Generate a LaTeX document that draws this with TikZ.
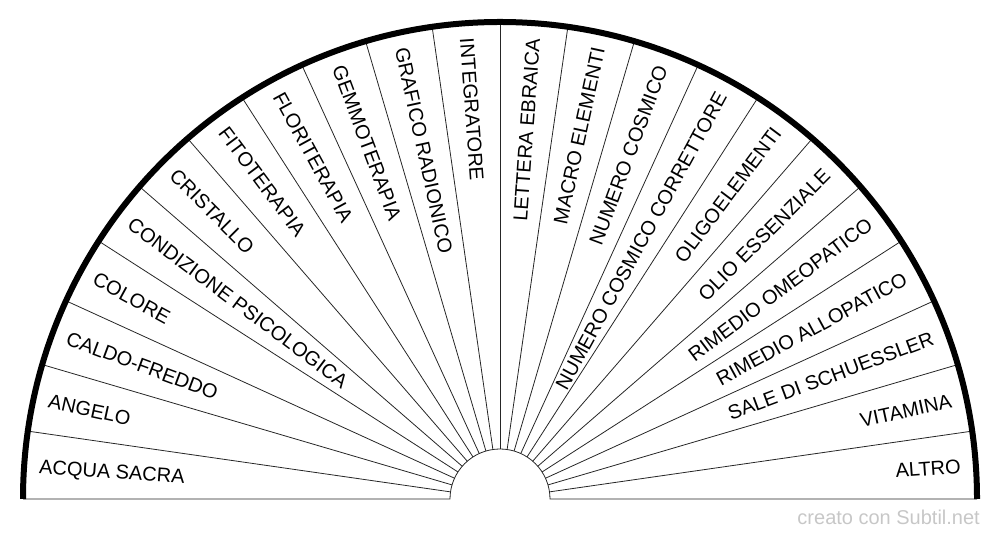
\documentclass[tikz,border=0pt]{standalone}
\usepackage{fontspec}
\setmainfont{Liberation Sans}
\begin{document}
\begin{tikzpicture}[x=1pt,y=1pt,
  spoke/.style={line width=0.8pt, black!85},
  rim/.style={line width=6pt, black},
  lab/.style={font=\fontsize{20}{24}\selectfont, inner sep=0pt, text height=14.3pt, text depth=0pt},
  wmark/.style={font=\fontsize{20}{24}\selectfont, inner sep=0pt, text=black!22}]
\useasboundingbox (0,0) rectangle (1000,540);
\begin{scope}[shift={(500,41)}]
  \foreach \k in {1,...,21}
    \draw[spoke] (\k*180/22:50) -- (\k*180/22:477);
  \draw[spoke] (-477,0) -- (-50,0) arc (180:0:50) -- (477,0);
  \draw[rim] (-477,0) arc (180:0:477);
  \foreach \t [count=\i from 0] in {ACQUA SACRA, ANGELO, CALDO-FREDDO, COLORE,
      CONDIZIONE PSICOLOGICA, CRISTALLO, FITOTERAPIA, FLORITERAPIA, GEMMOTERAPIA,
      GRAFICO RADIONICO, INTEGRATORE, LETTERA EBRAICA, MACRO ELEMENTI,
      NUMERO COSMICO, NUMERO COSMICO CORRETTORE, OLIGOELEMENTI, OLIO ESSENZIALE,
      RIMEDIO OMEOPATICO, RIMEDIO ALLOPATICO, SALE DI SCHUESSLER, VITAMINA, ALTRO}{
    \pgfmathsetmacro\th{180-(\i+0.5)*180/22}
    \ifnum\i<11
      \node[lab, anchor=west, rotate=\th-180] (l\i) at (\th:462) {\t};
    \else
      \node[lab, anchor=east, rotate=\th] (l\i) at (\th:462) {\t};
    \fi
  }
\end{scope}
\node[wmark, anchor=base east] (wm) at (980,15) {creato con Subtil.net};
\end{tikzpicture}
\end{document}
